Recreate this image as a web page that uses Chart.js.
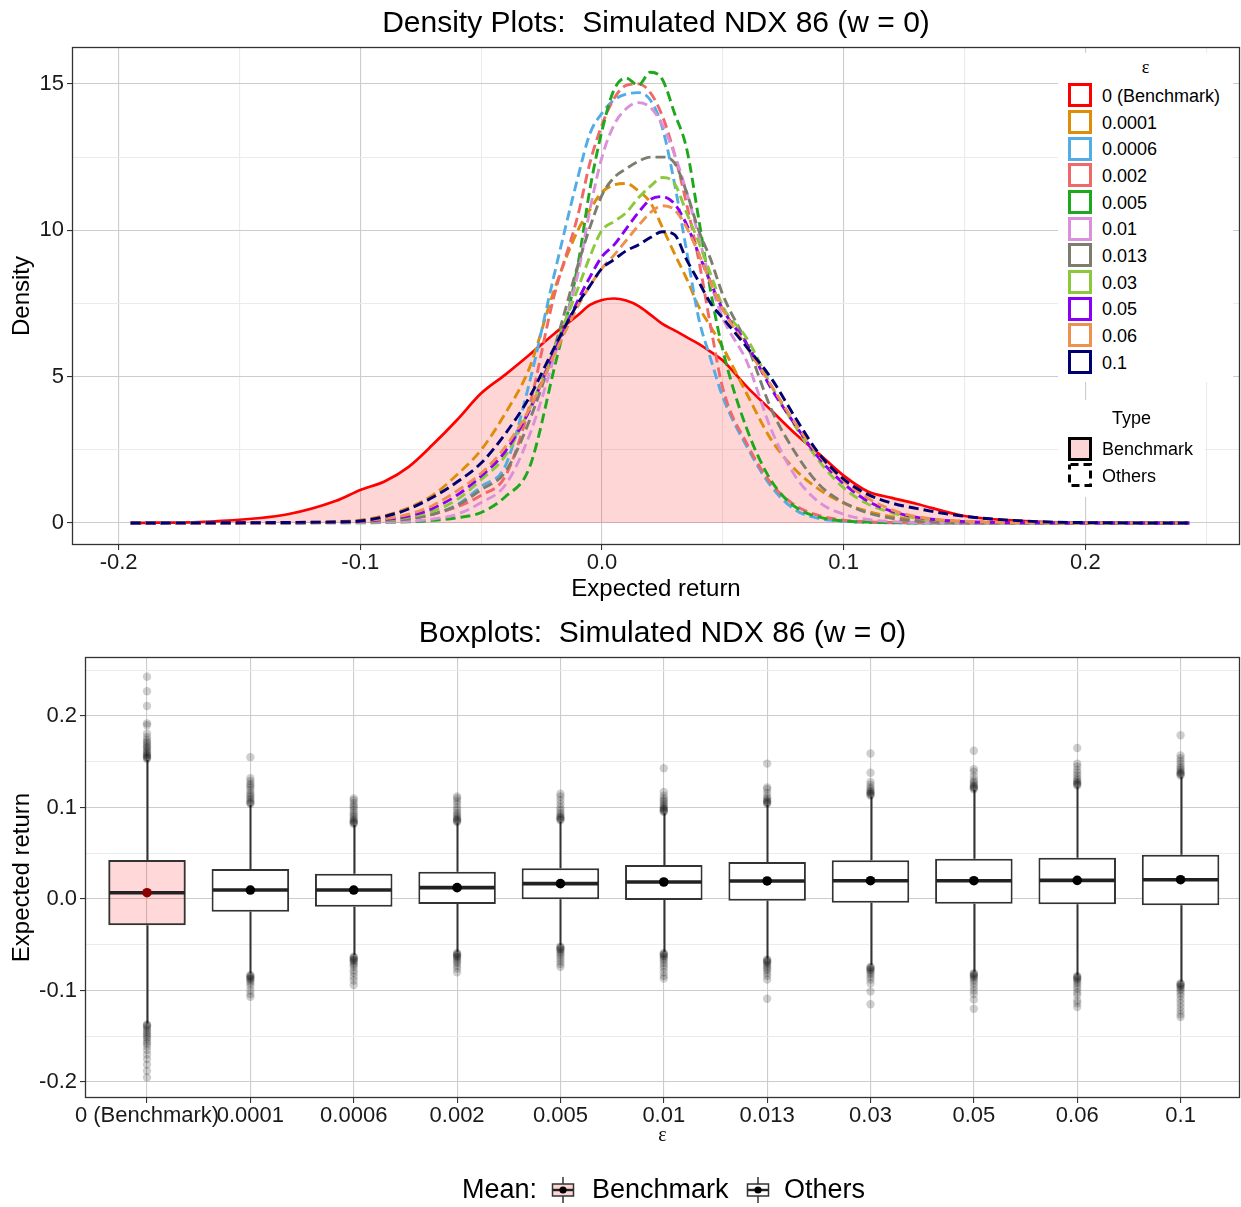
<!DOCTYPE html>
<html>
<head>
<meta charset="utf-8">
<title>Density Plots and Boxplots: Simulated NDX 86 (w = 0)</title>
<script src="https://cdn.jsdelivr.net/npm/chart.js@4.4.1/dist/chart.umd.min.js"></script>
<style>
html,body{margin:0;padding:0;background:#fff;}
body{width:1241px;height:1207px;position:relative;overflow:hidden;font-family:"Liberation Sans",Arial,Helvetica,sans-serif;color:#000;}
canvas{position:absolute;left:0;display:block;}
#top{top:0;}
#bot{top:605px;}
.lgbox{position:absolute;background:#fff;}
.key{position:absolute;width:24px;height:24px;}
.lbl{position:absolute;font-size:18px;line-height:20px;white-space:nowrap;color:#000;}
.ttl{position:absolute;left:0;text-align:center;font-size:18px;line-height:22px;}
.ml{position:absolute;font-size:27px;line-height:30px;top:6px;white-space:nowrap;}
.mi{position:absolute;top:8px;width:24px;height:28px;}
</style>
</head>
<body>
<canvas id="top" width="1241" height="605"></canvas>
<canvas id="bot" width="1241" height="602"></canvas>
<div id="legEps" class="lgbox" style="left:1058px;top:53px;width:175px;height:329px;"></div>
<div id="legType" class="lgbox" style="left:1058px;top:400px;width:147px;height:97px;"></div>
<div id="legMean" style="position:absolute;left:0;top:1168px;width:1241px;height:40px;"></div>
<script>
// ---------------- data ----------------
const plotTitles = ['Density Plots:  Simulated NDX 86 (w = 0)', 'Boxplots:  Simulated NDX 86 (w = 0)'];
const seriesLabels = ['0 (Benchmark)','0.0001','0.0006','0.002','0.005','0.01','0.013','0.03','0.05','0.06','0.1'];
const typeLabels = ['Benchmark','Others'];

// density curves: expected return grid and densities
const densX = [-0.195,-0.16,-0.13,-0.11,-0.10,-0.09,-0.08,-0.07,-0.06,-0.05,-0.04,-0.03,-0.02,-0.01,-0.005,0,0.005,0.01,0.015,0.02,0.025,0.03,0.035,0.04,0.045,0.05,0.06,0.07,0.08,0.09,0.10,0.11,0.12,0.13,0.15,0.18,0.21,0.243];
const densBench = [0,0.06,0.3,0.76,1.13,1.42,1.92,2.68,3.52,4.43,5.07,5.75,6.45,7.1,7.45,7.62,7.67,7.6,7.42,7.12,6.8,6.58,6.35,6.12,5.85,5.55,4.65,3.85,3.05,2.35,1.62,1.08,0.86,0.66,0.24,0.05,0.01,0];
const dens0001 = [0,0.005,0.015,0.05,0.1,0.25,0.52,0.95,1.65,2.5,3.75,5.3,7.9,10.0,10.7,11.3,11.55,11.6,11.35,10.95,10.1,9.2,8.35,7.4,6.7,6.0,4.4,2.85,1.82,1.14,0.68,0.4,0.22,0.12,0.03,0.005,0,0];
const dens0006 = [0,0,0.01,0.02,0.03,0.07,0.15,0.3,0.62,1.25,1.95,4.8,8.4,11.8,13.3,14.0,14.45,14.65,14.7,14.45,13.5,11.6,9.3,7.0,5.6,4.3,2.6,1.25,0.45,0.15,0.06,0.02,0.01,0,0,0,0,0];
const dens002 = [0,0,0.01,0.02,0.03,0.07,0.15,0.3,0.55,0.95,1.6,4.0,7.7,10.5,12.3,13.6,14.5,14.95,15.0,14.7,13.9,12.6,10.9,9.0,6.7,4.6,2.7,1.35,0.6,0.25,0.1,0.04,0.02,0.01,0,0,0,0];
const dens005 = [0,0,0,0.01,0.01,0.02,0.04,0.09,0.18,0.36,0.9,1.9,5.2,8.8,11.4,13.4,14.8,15.2,14.95,15.4,15.15,14.0,12.8,10.4,7.9,5.9,3.2,1.45,0.55,0.2,0.07,0.03,0.01,0,0,0,0,0];
const dens01 = [0,0,0,0.01,0.02,0.03,0.06,0.14,0.3,0.7,1.3,3.0,5.6,8.5,10.7,12.5,13.6,14.15,14.36,14.2,13.6,12.6,11.3,9.8,8.2,7.0,5.5,3.2,1.6,0.7,0.3,0.12,0.05,0.02,0,0,0,0];
const dens013 = [0,0,0.01,0.02,0.04,0.08,0.14,0.3,0.6,1.14,1.75,3.5,5.9,8.8,10.1,11.2,11.8,12.1,12.35,12.5,12.5,12.3,11.3,10.0,9.0,7.8,6.1,3.9,2.4,1.3,0.7,0.35,0.16,0.07,0.01,0,0,0];
const dens03 = [0,0,0.01,0.03,0.05,0.1,0.2,0.4,0.8,1.48,2.3,3.9,5.9,8.0,9.1,10.0,10.3,10.6,11.1,11.5,11.8,11.6,10.6,9.6,8.5,7.4,6.3,4.7,3.3,2.1,1.2,0.65,0.35,0.17,0.04,0.01,0,0];
const dens05 = [0,0,0.01,0.03,0.06,0.12,0.24,0.5,0.95,1.6,2.45,3.85,5.8,7.6,8.4,9.1,9.5,10.05,10.6,11.05,11.15,10.9,10.2,9.2,8.2,7.3,6.1,4.6,3.35,2.2,1.35,0.75,0.4,0.2,0.05,0.01,0,0];
const dens06 = [0,0,0.01,0.04,0.07,0.15,0.3,0.6,1.1,1.7,2.6,3.9,5.7,7.4,8.1,8.7,9.15,9.65,10.15,10.6,10.84,10.7,10.1,9.2,8.2,7.3,6.0,4.7,3.4,2.3,1.45,0.85,0.45,0.22,0.06,0.01,0,0];
const dens1 = [0,0.01,0.02,0.04,0.07,0.22,0.48,0.88,1.4,2.05,3.05,4.3,5.95,7.5,8.1,8.7,9.0,9.3,9.5,9.75,9.95,9.85,9.0,8.25,7.5,7.0,6.0,4.95,3.6,2.35,1.5,0.98,0.68,0.5,0.23,0.05,0.01,0];

// density axes ticks
const densXTicks = [-0.2,-0.1,0,0.1,0.2];
const densXTickLabels = ['-0.2','-0.1','0.0','0.1','0.2'];
const densXMinor = [-0.15,-0.05,0.05,0.15,0.25];
const densYTicks = [0,5,10,15];
const densYTickLabels = ['0','5','10','15'];
const densYMinor = [2.5,7.5,12.5];

// boxplot statistics per epsilon
const boxCats = ['0 (Benchmark)','0.0001','0.0006','0.002','0.005','0.01','0.013','0.03','0.05','0.06','0.1'];
const boxLo   = [-0.136,-0.0812,-0.0612,-0.0576,-0.0503,-0.0576,-0.0649,-0.0721,-0.0795,-0.083,-0.0904];
const boxQ1   = [-0.0288,-0.0139,-0.0084,-0.0055,-0.0004,-0.0011,-0.0018,-0.004,-0.0051,-0.0058,-0.0069];
const boxMed  = [0.0069,0.0098,0.0098,0.0124,0.0168,0.0186,0.0197,0.020,0.020,0.0204,0.0211];
const boxQ3   = [0.0426,0.0328,0.0277,0.0298,0.0335,0.0372,0.0404,0.0423,0.044,0.0451,0.0484];
const boxHi   = [0.152,0.1027,0.081,0.0827,0.0845,0.0937,0.1027,0.1118,0.1191,0.1227,0.1337];
const boxMean = [0.0069,0.0098,0.0098,0.0124,0.0168,0.0186,0.0197,0.020,0.020,0.0204,0.0211];
const boxOutHigh = [
  [0.153,0.154,0.155,0.156,0.157,0.158,0.16,0.161,0.163,0.165,0.166,0.168,0.17,0.172,0.174,0.177,0.181,0.19,0.192,0.211,0.227,0.243],
  [0.104,0.105,0.106,0.108,0.11,0.112,0.114,0.116,0.119,0.122,0.124,0.126,0.129,0.132,0.155],
  [0.082,0.083,0.084,0.085,0.086,0.088,0.09,0.092,0.094,0.097,0.1,0.102,0.105,0.108,0.11],
  [0.084,0.085,0.086,0.087,0.088,0.09,0.092,0.094,0.097,0.1,0.104,0.107,0.11,0.112],
  [0.086,0.087,0.088,0.089,0.09,0.092,0.094,0.097,0.1,0.104,0.108,0.112,0.115],
  [0.095,0.096,0.097,0.098,0.099,0.1,0.102,0.104,0.106,0.108,0.11,0.113,0.117,0.143],
  [0.104,0.105,0.106,0.107,0.108,0.11,0.112,0.116,0.12,0.122,0.148],
  [0.113,0.114,0.115,0.116,0.117,0.118,0.12,0.122,0.125,0.128,0.138,0.159],
  [0.12,0.121,0.122,0.123,0.124,0.126,0.128,0.13,0.134,0.139,0.142,0.162],
  [0.124,0.125,0.126,0.127,0.128,0.13,0.132,0.135,0.138,0.141,0.145,0.148,0.165],
  [0.135,0.136,0.137,0.138,0.139,0.141,0.143,0.145,0.148,0.151,0.154,0.157,0.179]
];
const boxOutLow = [
  [-0.137,-0.138,-0.139,-0.141,-0.143,-0.145,-0.147,-0.149,-0.151,-0.153,-0.156,-0.158,-0.161,-0.165,-0.17,-0.175,-0.181,-0.188,-0.195],
  [-0.083,-0.084,-0.085,-0.086,-0.087,-0.088,-0.09,-0.092,-0.095,-0.1,-0.104,-0.107],
  [-0.063,-0.064,-0.065,-0.066,-0.067,-0.068,-0.07,-0.072,-0.074,-0.078,-0.081,-0.085,-0.089,-0.094],
  [-0.059,-0.06,-0.061,-0.062,-0.063,-0.064,-0.066,-0.068,-0.07,-0.073,-0.076,-0.08],
  [-0.052,-0.053,-0.054,-0.055,-0.056,-0.058,-0.06,-0.062,-0.065,-0.068,-0.071,-0.074],
  [-0.059,-0.06,-0.061,-0.062,-0.063,-0.065,-0.067,-0.07,-0.073,-0.076,-0.08,-0.084,-0.087],
  [-0.066,-0.067,-0.068,-0.069,-0.07,-0.072,-0.074,-0.076,-0.078,-0.081,-0.084,-0.088,-0.109],
  [-0.074,-0.075,-0.076,-0.077,-0.078,-0.08,-0.082,-0.085,-0.088,-0.092,-0.101,-0.115],
  [-0.081,-0.082,-0.083,-0.084,-0.085,-0.087,-0.089,-0.092,-0.096,-0.1,-0.104,-0.11,-0.12],
  [-0.084,-0.085,-0.086,-0.087,-0.088,-0.09,-0.092,-0.095,-0.098,-0.102,-0.105,-0.111,-0.114,-0.118],
  [-0.092,-0.093,-0.094,-0.095,-0.096,-0.098,-0.1,-0.103,-0.106,-0.11,-0.114,-0.118,-0.122,-0.126,-0.129]
];
const boxYTicks = [-0.2,-0.1,0,0.1,0.2];
const boxYTickLabels = ['-0.2','-0.1','0.0','0.1','0.2'];
const boxYMinor = [-0.15,-0.05,0.05,0.15,0.25];

// ---------------- styles ----------------
const FF = '"Liberation Sans", Arial, Helvetica, sans-serif';
const SERIF = '"Liberation Serif", "DejaVu Serif", serif';
const seriesColors = ['#FF0000','#DE8C0A','#52ACE6','#F06868','#1DA81D','#DA90DA','#7D7D6E','#8CC83C','#8A00F2','#EE9050','#000070'];
const MAJ = '#cccccc', MIN = '#ebebeb', TICKC = '#333333';
const benchFill = 'rgba(255,0,0,0.16)';

function near(a,b){return Math.abs(a-b)<1e-9;}
function isIn(v,arr){return v!==undefined && arr.some(t=>near(t,v));}
function lab(v,vals,labels){const k=vals.findIndex(t=>near(t,v));return k<0?'':labels[k];}

const frame = {id:'frame', afterDraw(chart){
  const {ctx, chartArea:a} = chart;
  ctx.save(); ctx.strokeStyle='#333'; ctx.lineWidth=1.3;
  ctx.strokeRect(a.left+0.5, a.top+0.5, a.right-a.left-1, a.bottom-a.top-1);
  ctx.restore();
}};

function gridOpts(major){
  return {
    color: c => (c.tick && isIn(c.tick.value, major)) ? MAJ : MIN,
    tickColor: c => (c.tick && isIn(c.tick.value, major)) ? TICKC : 'rgba(0,0,0,0)',
    tickLength: 5, lineWidth: 1.1
  };
}
function fitX(h){ return s => { s.height = h; s.paddingLeft = 0; s.paddingRight = 0; }; }

// ---------------- density chart ----------------
const densSeries = [densBench,dens0001,dens0006,dens002,dens005,dens01,dens013,dens03,dens05,dens06,dens1];
const toPts = arr => densX.map((x,i)=>({x:x, y:arr[i]}));
const densDatasets = [{
  label:'Benchmark area', data: toPts(densBench), fill:{value:0}, backgroundColor: benchFill,
  borderWidth:0, pointRadius:0, order:100, cubicInterpolationMode:'monotone'
}];
densSeries.forEach((arr,i)=>{
  densDatasets.push({
    label: seriesLabels[i], data: toPts(arr), fill:false,
    borderColor: seriesColors[i], borderWidth: i===0 ? 2.7 : 2.9,
    borderDash: i===0 ? [] : [10,5], pointRadius:0, order: 50 - i,
    cubicInterpolationMode:'monotone'
  });
});

new Chart(document.getElementById('top'), {
  type:'line',
  data:{datasets: densDatasets},
  options:{
    responsive:false, animation:false, events:[],
    layout:{autoPadding:false, padding:{left:0,right:1,top:0,bottom:0}},
    plugins:{
      legend:{display:false}, tooltip:{enabled:false},
      title:{display:true, fullSize:false, text: plotTitles[0], color:'#000',
        font:{family:FF, size:30, weight:'normal'}, padding:{top:6,bottom:5}}
    },
    scales:{
      x:{type:'linear', min:-0.2193, max:0.264,
        afterBuildTicks: s => { s.ticks = densXTicks.concat(densXMinor).sort((a,b)=>a-b).map(v=>({value:v})); },
        afterFit: fitX(60),
        ticks:{autoSkip:false, maxRotation:0, minRotation:0, padding:0, color:'#1a1a1a',
          font:{family:FF,size:22}, callback: v => lab(v, densXTicks, densXTickLabels)},
        grid: gridOpts(densXTicks), border:{display:false},
        title:{display:true, text:'Expected return', color:'#000', font:{family:FF,size:24}, padding:{top:0,bottom:1}}
      },
      y:{type:'linear', min:-0.75, max:16.26,
        afterBuildTicks: s => { s.ticks = densYTicks.concat(densYMinor).sort((a,b)=>a-b).map(v=>({value:v})); },
        afterFit: s => { s.width = 72; },
        ticks:{autoSkip:false, padding:3, color:'#1a1a1a', font:{family:FF,size:22},
          callback: v => lab(v, densYTicks, densYTickLabels)},
        grid: gridOpts(densYTicks), border:{display:false},
        title:{display:true, text:'Density', color:'#000', font:{family:FF,size:24}, padding:{top:8,bottom:0}}
      }
    }
  },
  plugins:[frame]
});

// ---------------- boxplot chart ----------------
const outPts = [];
boxCats.forEach((c,i)=>{
  boxOutHigh[i].forEach(v=>outPts.push({x:i,y:v}));
  boxOutLow[i].forEach(v=>outPts.push({x:i,y:v}));
});

const boxExtras = {
  id:'boxExtras',
  beforeDatasetsDraw(chart){
    const {ctx, scales:{x,y}} = chart;
    ctx.save(); ctx.strokeStyle='#333'; ctx.lineWidth=2;
    boxCats.forEach((c,i)=>{
      const px = Math.round(x.getPixelForValue(i))+0.5;
      ctx.beginPath();
      ctx.moveTo(px, y.getPixelForValue(boxHi[i])); ctx.lineTo(px, y.getPixelForValue(boxQ3[i]));
      ctx.moveTo(px, y.getPixelForValue(boxQ1[i])); ctx.lineTo(px, y.getPixelForValue(boxLo[i]));
      ctx.stroke();
    });
    ctx.restore();
  },
  afterDatasetDraw(chart, args){
    if(args.index !== 0) return;
    const {ctx, scales:{y}} = chart;
    const meta = chart.getDatasetMeta(0);
    ctx.save(); ctx.strokeStyle='#222'; ctx.lineWidth=3.6;
    meta.data.forEach((bar,i)=>{
      const py = y.getPixelForValue(boxMed[i]);
      ctx.beginPath(); ctx.moveTo(bar.x - bar.width/2 + 1, py); ctx.lineTo(bar.x + bar.width/2 - 1, py); ctx.stroke();
    });
    ctx.restore();
  }
};

new Chart(document.getElementById('bot'), {
  type:'bar',
  data:{datasets:[
    {type:'bar', label:'box', data: boxCats.map((c,i)=>({x:i, y:[boxQ1[i], boxQ3[i]]})),
      backgroundColor: boxCats.map((c,i)=> i===0 ? 'rgba(255,0,0,0.15)' : '#ffffff'),
      borderColor:'#333333', borderWidth:2, borderSkipped:false,
      categoryPercentage:1, barPercentage:0.75, order:2},
    {type:'scatter', label:'outliers', data: outPts, pointRadius:4.2,
      backgroundColor:'rgba(0,0,0,0.19)', borderColor:'rgba(0,0,0,0)', borderWidth:0, order:3},
    {type:'scatter', label:'Mean', data: boxCats.map((c,i)=>({x:i, y:boxMean[i]})), pointRadius:4.8,
      backgroundColor: boxCats.map((c,i)=> i===0 ? '#8B0000' : '#000000'),
      borderColor:'rgba(0,0,0,0)', borderWidth:0, order:1}
  ]},
  options:{
    responsive:false, animation:false, events:[],
    layout:{autoPadding:false, padding:{left:0,right:1,top:0,bottom:57}},
    plugins:{
      legend:{display:false}, tooltip:{enabled:false},
      title:{display:true, fullSize:false, text: plotTitles[1], color:'#000',
        font:{family:FF, size:30, weight:'normal'}, padding:{top:11,bottom:5}}
    },
    scales:{
      x:{type:'linear', min:-0.6, max:10.575, offset:false,
        afterBuildTicks: s => { s.ticks = boxCats.map((c,i)=>({value:i})); },
        afterFit: fitX(52),
        ticks:{autoSkip:false, maxRotation:0, minRotation:0, padding:0, color:'#1a1a1a',
          font:{family:FF,size:22}, callback: v => boxCats[Math.round(v)] || ''},
        grid:{color:MAJ, tickColor:TICKC, tickLength:5, lineWidth:1.1, offset:false},
        border:{display:false},
        title:{display:true, text:'ε', color:'#000', font:{family:SERIF,size:20}, padding:{top:0,bottom:2}}
      },
      y:{type:'linear', min:-0.2175, max:0.2645,
        afterBuildTicks: s => { s.ticks = boxYTicks.concat(boxYMinor).sort((a,b)=>a-b).map(v=>({value:v})); },
        afterFit: s => { s.width = 85; },
        ticks:{autoSkip:false, padding:3, color:'#1a1a1a', font:{family:FF,size:22},
          callback: v => lab(v, boxYTicks, boxYTickLabels)},
        grid: gridOpts(boxYTicks), border:{display:false},
        title:{display:true, text:'Expected return', color:'#000', font:{family:FF,size:24}, padding:{top:8,bottom:0}}
      }
    }
  },
  plugins:[boxExtras, frame]
});

// ---------------- HTML legends ----------------
function keySvg(stroke, fill, dashed){
  return '<svg width="24" height="24" viewBox="0 0 24 24"><rect x="1.5" y="1.5" width="21" height="21" fill="'+fill+
    '" stroke="'+stroke+'" stroke-width="3"'+(dashed?' stroke-dasharray="8 5" stroke-dashoffset="-1"':'')+'/></svg>';
}
const le = document.getElementById('legEps');
let h = '<div class="ttl" style="top:3px;width:175px;font-family:'+SERIF.replace(/"/g,"'")+';">ε</div>';
seriesLabels.forEach((l,k)=>{
  const t = 30.3 + 26.67*k;
  h += '<div class="key" style="left:10px;top:'+t.toFixed(1)+'px;">'+keySvg(seriesColors[k],'#fff',false)+'</div>';
  h += '<div class="lbl" style="left:44px;top:'+(t+2.5).toFixed(1)+'px;">'+l+'</div>';
});
le.innerHTML = h;

const lt = document.getElementById('legType');
let h2 = '<div class="ttl" style="top:7px;width:147px;">Type</div>';
[36.7, 63.3].forEach((t,k)=>{
  h2 += '<div class="key" style="left:10px;top:'+t+'px;">'+keySvg('#000', k===0 ? '#fcd6d6' : '#fff', k===1)+'</div>';
  h2 += '<div class="lbl" style="left:44px;top:'+(t+2.5)+'px;">'+typeLabels[k]+'</div>';
});
lt.innerHTML = h2;

function meanIcon(fill){
  return '<svg width="24" height="28" viewBox="0 0 24 28">'+
    '<line x1="12" y1="1" x2="12" y2="8" stroke="#333" stroke-width="1.5"/>'+
    '<line x1="12" y1="20" x2="12" y2="27" stroke="#333" stroke-width="1.5"/>'+
    '<rect x="1.5" y="8" width="21" height="12" fill="'+fill+'" stroke="#333" stroke-width="1.5"/>'+
    '<line x1="2" y1="14" x2="22" y2="14" stroke="#222" stroke-width="2.4"/>'+
    '<circle cx="12" cy="14" r="3.6" fill="#000"/></svg>';
}
const lm = document.getElementById('legMean');
lm.innerHTML =
  '<div class="ml" style="left:462px;">Mean:</div>'+
  '<div class="mi" style="left:551px;">'+meanIcon('#fcd6d6')+'</div>'+
  '<div class="ml" style="left:592px;">'+typeLabels[0]+'</div>'+
  '<div class="mi" style="left:746px;">'+meanIcon('#ffffff')+'</div>'+
  '<div class="ml" style="left:784px;">'+typeLabels[1]+'</div>';
</script>
</body>
</html>
